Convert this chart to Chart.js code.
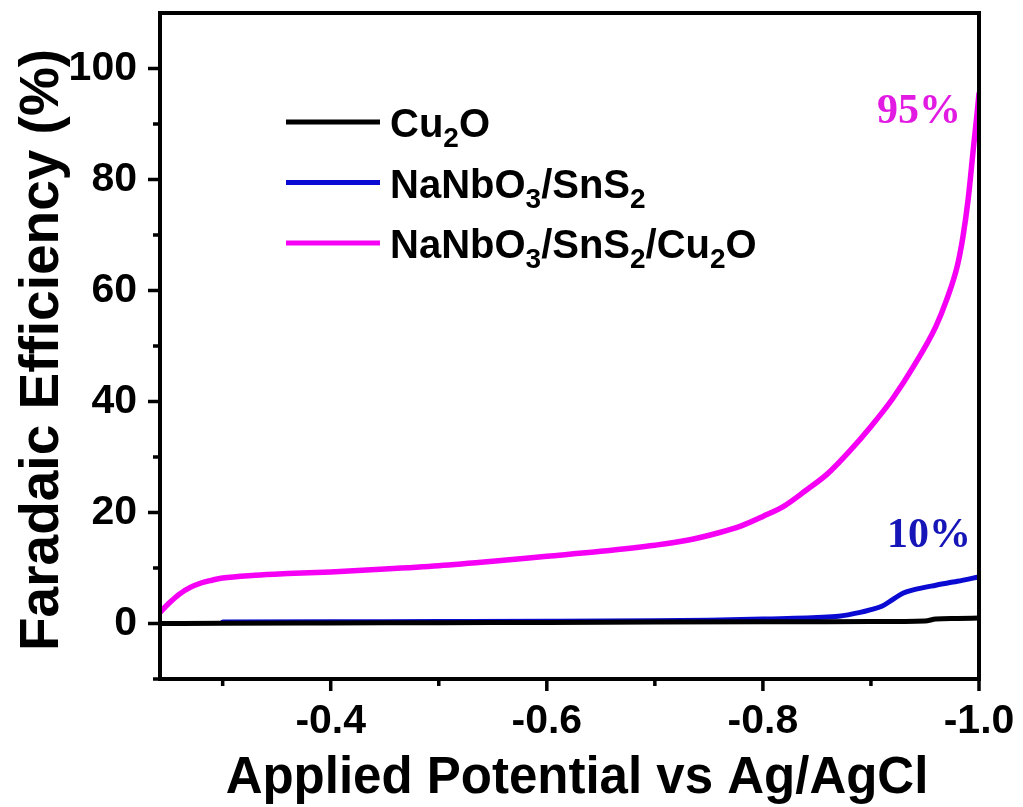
<!DOCTYPE html>
<html>
<head>
<meta charset="utf-8">
<script src="https://cdn.jsdelivr.net/npm/chart.js@4.4.1/dist/chart.umd.min.js"></script>
<style>
  html, body { margin: 0; padding: 0; background: #fff; }
  #wrap { width: 1023px; height: 807px; }
</style>
</head>
<body>
<div id="wrap"><canvas id="feChart" width="1023" height="807"></canvas></div>
<script>
// data (potential in V vs Ag/AgCl, FE in %)
const potCu2O = [-0.242, -0.30, -0.40, -0.50, -0.60, -0.70, -0.80, -0.90, -0.95, -0.96, -0.98, -1.0];
const feCu2O  = [0.0, 0.05, 0.1, 0.15, 0.2, 0.25, 0.3, 0.35, 0.45, 0.8, 0.9, 1.0];

const potNS = [-0.30, -0.40, -0.50, -0.60, -0.70, -0.75, -0.80, -0.85, -0.87, -0.89, -0.90, -0.91, -0.92, -0.93, -0.94, -0.96, -0.98, -1.0];
const feNS  = [0.25, 0.3, 0.35, 0.4, 0.5, 0.6, 0.8, 1.1, 1.3, 2.0, 2.5, 3.1, 4.3, 5.5, 6.1, 6.9, 7.6, 8.4];

const potNSC = [-0.242, -0.25, -0.26, -0.27, -0.28, -0.29, -0.30, -0.33, -0.36, -0.40, -0.45, -0.50, -0.55, -0.60, -0.65, -0.70, -0.73, -0.76, -0.78, -0.80, -0.82, -0.84, -0.86, -0.88, -0.90, -0.92, -0.94, -0.96, -0.97, -0.98, -0.985, -0.99, -0.995, -0.998, -1.0];
const feNSC  = [2.0, 3.6, 5.3, 6.5, 7.3, 7.8, 8.2, 8.7, 9.0, 9.3, 9.8, 10.4, 11.2, 12.1, 13.0, 14.1, 15.0, 16.4, 17.6, 19.3, 21.2, 24.0, 27.0, 31.0, 35.5, 40.5, 46.5, 53.5, 58.3, 64.5, 69.5, 76.5, 86.0, 91.5, 95.5];

const xTicks = [-0.3, -0.4, -0.5, -0.6, -0.7, -0.8, -0.9, -1.0];
const xLabels = ['-0.4', '-0.6', '-0.8', '-1.0'];
const yTicks = [-10, 0, 10, 20, 30, 40, 50, 60, 70, 80, 90, 100, 110];
const yLabels = ['0', '20', '40', '60', '80', '100'];

const xTitle = 'Applied Potential vs Ag/AgCl';
const yTitle = 'Faradaic Efficiency (%)';

// legend entries: [text, isSubscript] pieces
const legendItems = [
  { color: '#000000', parts: [['Cu', 0], ['2', 1], ['O', 0]] },
  { color: '#0a0ad2', parts: [['NaNbO', 0], ['3', 1], ['/SnS', 0], ['2', 1]] },
  { color: '#f500f5', parts: [['NaNbO', 0], ['3', 1], ['/SnS', 0], ['2', 1], ['/Cu', 0], ['2', 1], ['O', 0]] }
];

function toPoints(xs, ys) {
  return xs.map((x, i) => ({ x: x, y: ys[i] }));
}

const fontFam = '"Liberation Sans", Arial, sans-serif';

// frame, minor/major ticks, axis titles, legend and the two % labels
const decorPlugin = {
  id: 'decor',
  afterDraw(chart) {
    const ctx = chart.ctx;
    const a = chart.chartArea;
    const xs = chart.scales.x, ys = chart.scales.y;
    ctx.save();
    ctx.strokeStyle = '#000';
    ctx.lineWidth = 4;
    ctx.strokeRect(a.left, a.top, a.right - a.left, a.bottom - a.top);

    ctx.lineWidth = 3.5;
    ctx.beginPath();
    yTicks.forEach(v => {
      if (v > 100) return;
      const py = ys.getPixelForValue(v);
      const len = yLabels.includes(String(v)) ? 12 : 7;
      ctx.moveTo(a.left, py);
      ctx.lineTo(a.left - len, py);
    });
    xTicks.forEach(v => {
      const px = xs.getPixelForValue(v);
      const len = xLabels.includes(v.toFixed(1)) ? 12 : 7;
      ctx.moveTo(px, a.bottom);
      ctx.lineTo(px, a.bottom + len);
    });
    ctx.stroke();

    // axis titles
    ctx.fillStyle = '#000';
    ctx.textBaseline = 'alphabetic';
    ctx.font = 'bold 51px ' + fontFam;
    ctx.textAlign = 'center';
    ctx.fillText(xTitle, 577, 793);
    ctx.save();
    ctx.translate(58, 651);
    ctx.rotate(-Math.PI / 2);
    ctx.textAlign = 'left';
    ctx.font = 'bold 55px ' + fontFam;
    ctx.fillText(yTitle, 0, 0);
    ctx.restore();

    // legend
    let ly = 122;
    legendItems.forEach(item => {
      ctx.strokeStyle = item.color;
      ctx.lineWidth = 5;
      ctx.beginPath();
      ctx.moveTo(286, ly);
      ctx.lineTo(380, ly);
      ctx.stroke();
      let tx = 390;
      ctx.fillStyle = '#000';
      ctx.textAlign = 'left';
      item.parts.forEach(p => {
        if (p[1]) {
          ctx.font = 'bold 28px ' + fontFam;
          ctx.fillText(p[0], tx, ly + 25);
        } else {
          ctx.font = 'bold 40px ' + fontFam;
          ctx.fillText(p[0], tx, ly + 15);
        }
        tx += ctx.measureText(p[0]).width;
      });
      ly += 60.5;
    });

    ctx.font = 'bold 42px "Liberation Serif", "Times New Roman", serif';
    ctx.fillStyle = '#e21be2';
    ctx.fillText('95%', 877, 123);
    ctx.fillStyle = '#1616b8';
    ctx.fillText('10%', 887, 547);
    ctx.restore();
  }
};

function noPad(scale) {
  scale.paddingTop = 0;
  scale.paddingBottom = 0;
  scale.paddingLeft = 0;
  scale.paddingRight = 0;
}

const ctx = document.getElementById('feChart').getContext('2d');
const feChart = new Chart(ctx, {
  type: 'line',
  data: {
    datasets: [
      { label: 'Cu2O', data: toPoints(potCu2O, feCu2O), borderColor: '#000000', borderWidth: 5 },
      { label: 'NaNbO3/SnS2', data: toPoints(potNS, feNS), borderColor: '#0a0ad2', borderWidth: 5 },
      { label: 'NaNbO3/SnS2/Cu2O', data: toPoints(potNSC, feNSC), borderColor: '#f500f5', borderWidth: 5.5 }
    ]
  },
  options: {
    responsive: false,
    animation: false,
    parsing: false,
    layout: { padding: { left: 0, right: 44, top: 13, bottom: 0 } },
    elements: {
      point: { radius: 0 },
      line: { cubicInterpolationMode: 'monotone', borderCapStyle: 'round', borderJoinStyle: 'round' }
    },
    plugins: {
      legend: { display: false },
      tooltip: { enabled: false }
    },
    scales: {
      x: {
        type: 'linear',
        reverse: true,
        min: -1.0,
        max: -0.242,
        border: { display: false },
        grid: { display: false, drawTicks: false },
        afterBuildTicks: function(scale) {
          scale.ticks = xTicks.map(v => ({ value: v }));
        },
        afterFit: function(scale) { scale.height = 128; noPad(scale); },
        ticks: {
          autoSkip: false,
          maxRotation: 0,
          padding: 18,
          color: '#000',
          font: { family: fontFam, size: 41, weight: 'bold' },
          callback: function(value) {
            const s = Number(value).toFixed(1);
            return xLabels.includes(s) ? s : '';
          }
        }
      },
      y: {
        type: 'linear',
        min: -10,
        max: 110,
        border: { display: false },
        grid: { display: false, drawTicks: false },
        afterBuildTicks: function(scale) {
          scale.ticks = yTicks.map(v => ({ value: v }));
        },
        afterFit: function(scale) { scale.width = 160; noPad(scale); },
        ticks: {
          autoSkip: false,
          padding: 23,
          color: '#000',
          font: { family: fontFam, size: 41, weight: 'bold' },
          callback: function(value) {
            const s = String(value);
            return yLabels.includes(s) ? s : '';
          }
        }
      }
    }
  },
  plugins: [decorPlugin]
});
</script>
</body>
</html>
